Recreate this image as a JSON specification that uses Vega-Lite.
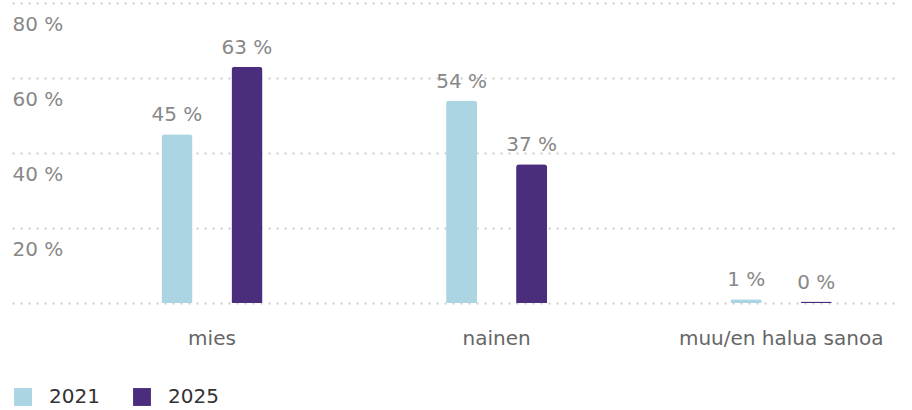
{
  "$schema": "https://vega.github.io/schema/vega-lite/v6.json",
  "autosize": {"type": "none"},
  "padding": {"left": 12, "top": 3, "right": 12, "bottom": 107},
  "width": 888,
  "height": 300,
  "background": "white",
  "config": {
    "view": {"stroke": null},
    "font": "DejaVu Sans"
  },
  "data": {
    "values": [
      {"ryhma": "mies", "vuosi": "2021", "osuus": 45},
      {"ryhma": "mies", "vuosi": "2025", "osuus": 63},
      {"ryhma": "nainen", "vuosi": "2021", "osuus": 54},
      {"ryhma": "nainen", "vuosi": "2025", "osuus": 37},
      {"ryhma": "muu/en halua sanoa", "vuosi": "2021", "osuus": 1},
      {"ryhma": "muu/en halua sanoa", "vuosi": "2025", "osuus": 0.4}
    ]
  },
  "encoding": {
    "x": {
      "field": "ryhma", "type": "nominal", "sort": null, "title": null,
      "scale": {"paddingInner": 0.5, "paddingOuter": 0.31, "align": 0.73},
      "axis": {"domain": false, "ticks": false, "labelAngle": 0, "labelFontSize": 20, "labelColor": "#666666", "labelPadding": 25, "labelLimit": 400, "grid": false}
    },
    "xOffset": {
      "field": "vuosi", "type": "nominal",
      "scale": {"paddingInner": 0.557, "paddingOuter": 0.295}
    },
    "y": {
      "field": "osuus", "type": "quantitative", "title": null,
      "scale": {"domain": [0, 80]},
      "axis": {
        "values": [0, 20, 40, 60, 80],
        "domain": false, "ticks": false,
        "labelAlign": "left", "labelPadding": 0, "labelBaseline": "middle", "labelOffset": 21,
        "labelFontSize": 20, "labelColor": "#888888",
        "labelExpr": "datum.value == 0 ? '' : datum.value + ' %'",
        "gridColor": "#cccccc", "gridDash": [2, 6], "gridWidth": 2
      }
    }
  },
  "layer": [
    {
      "mark": {"type": "bar", "cornerRadiusTopLeft": 3, "cornerRadiusTopRight": 3, "minBandSize": 2},
      "encoding": {
        "color": {
          "field": "vuosi", "type": "nominal", "title": null,
          "scale": {"domain": ["2021", "2025"], "range": ["#abd5e2", "#4a2d7c"]},
          "legend": {
            "orient": "none", "legendX": 1, "legendY": 384, "direction": "horizontal",
            "symbolType": "square", "symbolSize": 320, "symbolStrokeWidth": 0,
            "labelFontSize": 20, "labelColor": "#333333", "labelOffset": 16,
            "columnPadding": 32
          }
        }
      }
    },
    {
      "transform": [{"calculate": "format(datum.osuus, '.0f') + ' %'", "as": "lbl"}],
      "mark": {"type": "text", "baseline": "bottom", "dy": -9, "fontSize": 20, "color": "#888888"},
      "encoding": {
        "text": {"field": "lbl", "type": "nominal"},
        "detail": {"field": "vuosi"}
      }
    }
  ]
}
